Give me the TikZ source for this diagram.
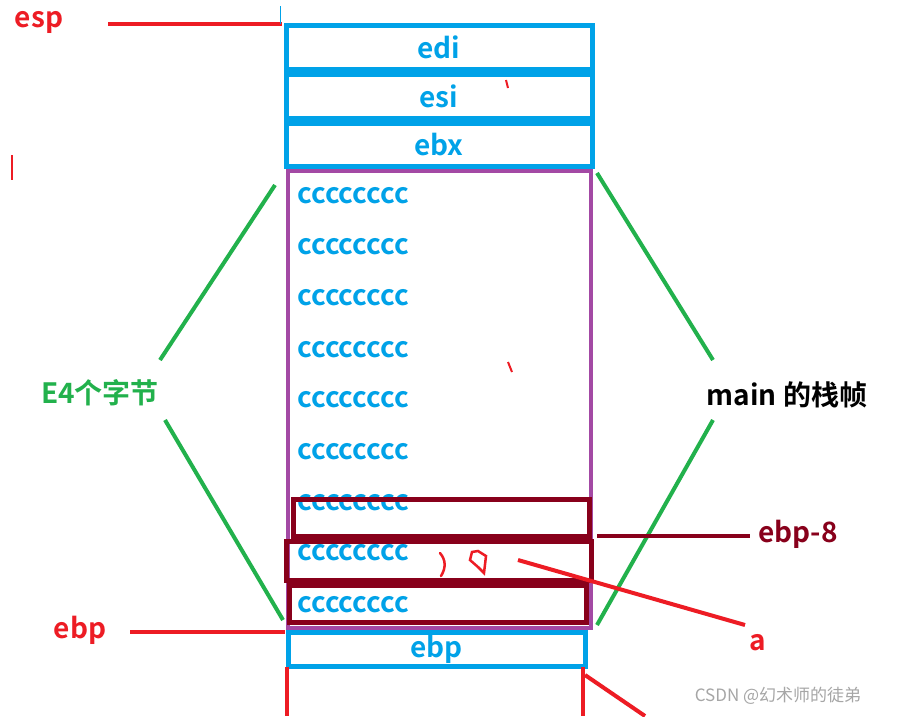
\documentclass[tikz,border=0pt]{standalone}
\usepackage{fontspec}
\setmainfont{Noto Sans CJK SC}[BoldFont={* Bold}]
\begin{document}
\begin{tikzpicture}[x=1pt,y=-1pt,
  lbl/.style={font=\bfseries\fontsize{28}{32}\selectfont,inner sep=0pt},
  reg/.style={draw=cBlue,line width=5pt,inner sep=0pt,text=cBlue,font=\bfseries\fontsize{28}{32}\selectfont},
  loc/.style={draw=cDark,line width=5pt},
  cc/.style={lbl,text=cBlue,anchor=west},
  gline/.style={draw=cGreen,line width=4pt},
  rline/.style={draw=cRed,line width=4pt}]
\definecolor{cBlue}{HTML}{00A2E8}
\definecolor{cRed}{HTML}{ED1C24}
\definecolor{cGreen}{HTML}{22B14C}
\definecolor{cDark}{HTML}{88001B}
\definecolor{cPurple}{HTML}{A349A4}
\useasboundingbox[fill=white] (0,0) rectangle (897,716);
% purple frame
\draw[cPurple,line width=4pt] (288,171) rectangle (591,628);
% register boxes
\node[reg,minimum width=306pt,minimum height=44pt] (edi) at (439,47.5) {edi};
\node[reg,minimum width=306pt,minimum height=44pt] (esi) at (439,96) {esi};
\node[reg,minimum width=306pt,minimum height=43pt] (ebx) at (439,144.5) {ebx};
\node[reg,minimum width=297pt,minimum height=34pt] (ebpbox) at (436.5,649) {ebp};
% cccc
\foreach \y/\n in {196/c1,247/c2,298/c3,350/c4,400/c5,452/c6,503/c7,553/c8,605/c9}
  \node[cc] (\n) at (297,\y) {cccccccc};
% dark red boxes
\draw[loc] (293,499) rectangle (589,536);
\draw[loc] (286,541) rectangle (591,580);
\draw[loc] (289,585) rectangle (586,622);
% green lines
\node[lbl,text=cGreen] (e4) at (100,393) {E4个字节};
\node[lbl,text=black] (main) at (787,395) {main 的栈帧};
\draw[gline] (275,185) -- (160,360);
\draw[gline] (165,420) -- (283,620);
\draw[gline] (597,173) -- (713,360);
\draw[gline] (713,420) -- (597,625);
% esp
\node[lbl,text=cRed] (esp) at (39,22) {esp};
\coordinate (espT) at (282,24);
\draw[rline] (108,24) -- (espT);
\draw[cBlue,line width=1pt] (280,6) -- (280,24);
% ebp
\node[lbl,text=cRed] (ebpl) at (80,630) {ebp};
\coordinate (ebpT) at (285,632);
\draw[rline] (130,632) -- (ebpT);
% ebp-8
\node[lbl,text=cDark] (ebp8) at (798,534) {ebp-8};
\draw[cDark,line width=4pt] (597,536) -- (750,536);
% a
\node[lbl,text=cRed] (a) at (758,643) {a};
\coordinate (aS) at (518,560);
\draw[rline] (aS) -- (745,625);
\draw[cRed,line width=2.5pt,line cap=round] (440,553) .. controls (446,560) and (446,568) .. (441,576);
\draw[cRed,line width=2.5pt,line cap=round] (472,552) -- (478,551) -- (486,556) -- (484,573) -- (478,567) -- (470,560) -- cycle;
% bottom red
\draw[rline] (287,667) -- (287,716);
\draw[rline] (583,667) -- (583,716);
\draw[rline] (585,675) -- (645,716);
% stray marks
\draw[cRed,line width=2pt] (506,80) -- (508,88);
\draw[cRed,line width=2pt] (12,155) -- (12,180);
\draw[cRed,line width=2pt] (508,362) -- (512,372);
% watermark
\node[font=\fontsize{17}{20}\selectfont,text=gray!70,inner sep=0pt] (wm) at (778,696) {CSDN @幻术师的徒弟};
\end{tikzpicture}
\end{document}
